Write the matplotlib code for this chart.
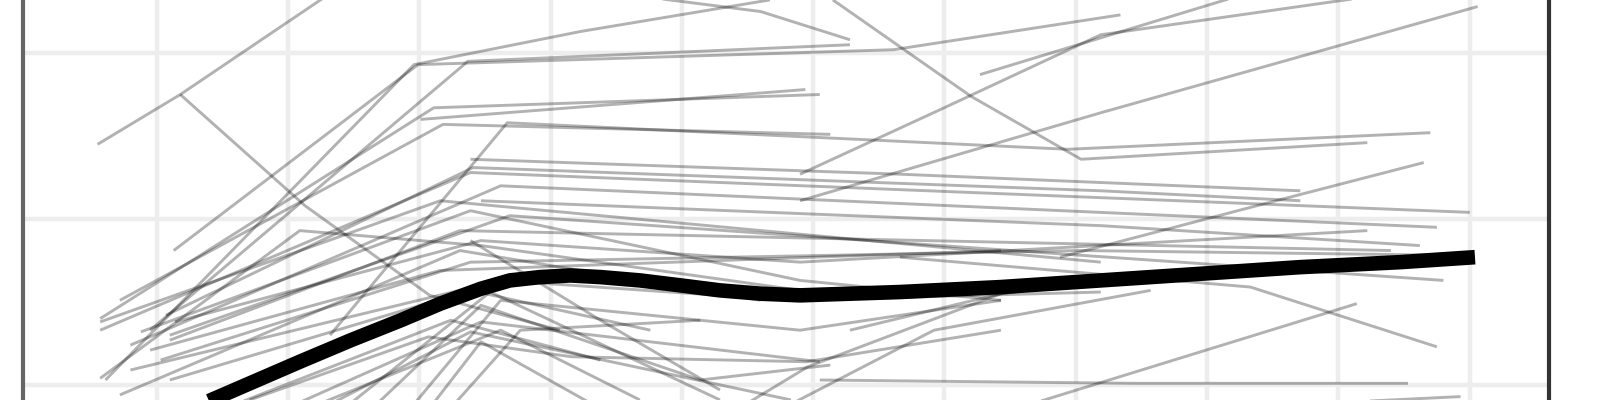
#!/usr/bin/env python3
"""Spaghetti plot: individual trajectories (grey) + smoothed mean (black)."""
import matplotlib
matplotlib.use("Agg")
import matplotlib.pyplot as plt

# individual trajectories (time, score), one list per subject
traj_t = [
    [0.55, 1.18, 2.36],
    [1.18, 2.13, 3.08, 4.07],
    [1.13, 2.99, 6.61, 8.34],
    [0.61, 2.96, 4.23, 5.67],
    [0.95, 3.37, 6.28],
    [0.57, 3.11, 6.05],
    [0.72, 3.18, 6.13],
    [1.07, 3.41, 8.19, 9.71],
    [0.57, 3.39, 11.0],
    [2.32, 3.67, 7.94, 10.70],
    [0.80, 3.62, 10.75],
    [0.88, 3.39, 5.90, 7.43],
    [1.10, 3.31, 10.40],
    [1.10, 3.69, 10.80],
    [0.57, 3.16, 8.19],
    [1.14, 3.47, 5.90, 10.22],
    [0.80, 3.62, 5.83, 8.19],
    [1.03, 3.39, 8.04, 11.0],
    [1.79, 3.47, 6.05],
    [2.09, 3.39, 5.83],
    [2.32, 3.54, 5.29],
    [2.55, 3.47, 5.14, 6.13],
    [2.86, 3.62, 5.90, 7.43],
    [3.01, 3.47, 4.53],
    [0.57, 2.09, 3.47, 5.90],
    [7.27, 10.14],
    [6.66, 9.33, 10.75],
    [6.05, 8.44, 10.53],
    [9.63, 10.93],
    [5.90, 8.19, 11.06],
    [5.90, 6.97, 8.19, 10.32],
    [7.27, 9.18],
    [7.88, 9.33, 10.65],
    [6.28, 7.43, 8.19],
    [6.15, 7.20, 8.04, 10.22],
    [3.01, 5.94],
    [4.61, 5.60, 6.28],
    [1.71, 3.07, 4.16, 5.95, 7.43],
    [5.29, 5.96, 7.43, 8.95],
    [5.60, 6.92, 8.57],
    [3.39, 4.38, 5.29],
    [3.47, 8.19, 10.62],
    [3.39, 6.66, 9.71],
    [0.72, 3.31, 5.60],
    [1.10, 3.39, 4.76],
    [1.49, 3.24, 4.38],
    [1.94, 3.62, 4.68],
    [0.95, 3.16, 7.43],
    [3.16, 3.77, 5.14],
]
traj_y = [
    [2.45, 2.75, 3.38],
    [2.75, 2.08, 1.54, 1.33],
    [1.81, 2.93, 3.02, 3.23],
    [1.03, 2.93, 3.13, 3.32],
    [1.33, 2.95, 3.05],
    [1.40, 2.67, 2.75],
    [1.51, 2.57, 2.51],
    [1.42, 2.31, 2.17, 2.11],
    [1.33, 2.28, 2.04],
    [1.30, 2.58, 2.42, 2.52],
    [1.24, 2.20, 1.95],
    [1.32, 2.05, 1.63, 1.51],
    [1.27, 1.93, 1.81],
    [1.30, 2.02, 1.63],
    [1.38, 2.11, 1.74],
    [1.38, 1.87, 1.74, 1.93],
    [1.09, 1.63, 1.51, 1.56],
    [1.15, 1.74, 1.81, 1.78],
    [0.79, 1.38, 1.14],
    [0.79, 1.32, 0.91],
    [0.79, 1.56, 0.91],
    [0.79, 1.48, 1.03, 1.12],
    [0.79, 1.51, 1.33, 1.51],
    [0.79, 1.26, 0.79],
    [1.04, 1.93, 1.84, 1.57],
    [0.79, 1.49],
    [1.77, 1.59, 1.23],
    [1.03, 1.01, 1.01],
    [0.88, 0.93],
    [2.11, 2.64, 3.28],
    [2.27, 2.66, 3.11, 3.35],
    [2.87, 3.33],
    [1.77, 2.07, 2.34],
    [1.33, 1.55, 1.63],
    [3.32, 2.74, 2.36, 2.46],
    [2.60, 2.78],
    [3.35, 3.25, 3.08],
    [0.91, 1.29, 1.17, 1.14, 1.33],
    [0.79, 1.11, 1.55, 1.69],
    [0.79, 1.33, 1.57],
    [1.87, 1.39, 0.97],
    [2.11, 1.96, 1.84],
    [2.36, 2.27, 2.17],
    [0.94, 1.81, 1.51],
    [1.03, 1.57, 1.33],
    [0.85, 1.39, 1.15],
    [0.79, 1.33, 0.91],
    [1.21, 1.69, 1.81],
    [0.79, 1.33, 1.39],
]

# smoothed mean curve
mean_t = [1.33, 1.71, 2.09, 2.48, 2.86, 3.16, 3.47, 3.69, 3.92, 4.15, 4.38,
          4.68, 4.99, 5.29, 5.60, 5.90, 6.28, 6.66, 7.43, 8.19, 8.95, 9.71,
          10.47, 11.04]
mean_y = [0.88, 1.01, 1.14, 1.27, 1.39, 1.49, 1.58, 1.63, 1.65, 1.66, 1.65,
          1.63, 1.60, 1.57, 1.55, 1.54, 1.55, 1.56, 1.59, 1.63, 1.67, 1.71,
          1.74, 1.77]

fig = plt.figure(figsize=(16, 4), dpi=100)
ax = fig.add_axes([23 / 1600, -0.05, 1525.5 / 1600, 1.1])

for t, y in zip(traj_t, traj_y):
    ax.plot(t, y, color="black", alpha=0.3, lw=2.1, solid_capstyle="butt")
ax.plot(mean_t, mean_y, color="black", lw=10.5, solid_capstyle="butt",
        solid_joinstyle="round")

ax.set_xlim(-0.018, 11.6)
ax.set_ylim(0.789, 3.44)
ax.set_xticks(range(1, 12))
ax.set_yticks([1, 2, 3])
ax.grid(True, color="#ededed", lw=3.2)
ax.set_axisbelow(True)
ax.tick_params(length=0, labelbottom=False, labelleft=False)
ax.spines["left"].set_color("#666666")
ax.spines["right"].set_color("#333333")
for sp in ("left", "right"):
    ax.spines[sp].set_linewidth(3)

fig.savefig("out.png", dpi=100)
